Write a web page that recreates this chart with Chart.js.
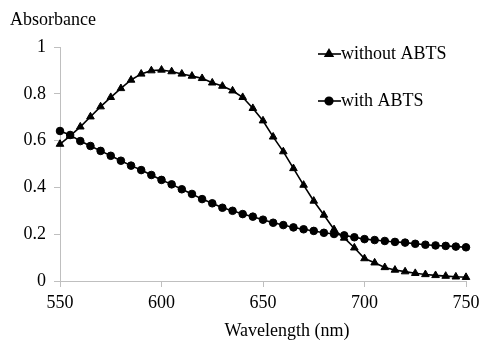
<!DOCTYPE html>
<html>
<head>
<meta charset="utf-8">
<script src="https://cdn.jsdelivr.net/npm/chart.js@4/dist/chart.umd.min.js"></script>
<style>
  body { margin: 0; background: #fff; }
  #wrap { width: 480px; height: 340px; position: relative; }
</style>
</head>
<body>
<div id="wrap"><canvas id="absChart"></canvas></div>
<script>
// --- data ---
const wavelengths = [550, 555, 560, 565, 570, 575, 580, 585, 590, 595,
  600, 605, 610, 615, 620, 625, 630, 635, 640, 645,
  650, 655, 660, 665, 670, 675, 680, 685, 690, 695,
  700, 705, 710, 715, 720, 725, 730, 735, 740, 745, 750];

const withoutABTS = [0.585, 0.620, 0.659, 0.702, 0.745, 0.785, 0.823, 0.859, 0.885, 0.899,
  0.902, 0.895, 0.885, 0.876, 0.866, 0.847, 0.833, 0.813, 0.785, 0.738,
  0.685, 0.616, 0.553, 0.481, 0.410, 0.342, 0.282, 0.220, 0.184, 0.142,
  0.096, 0.078, 0.058, 0.047, 0.040, 0.033, 0.028, 0.024, 0.021, 0.018, 0.016];

const withABTS = [0.641, 0.624, 0.598, 0.577, 0.556, 0.535, 0.514, 0.493, 0.474, 0.453,
  0.432, 0.413, 0.392, 0.372, 0.350, 0.332, 0.313, 0.300, 0.286, 0.275,
  0.262, 0.249, 0.239, 0.229, 0.221, 0.214, 0.206, 0.201, 0.195, 0.187,
  0.179, 0.175, 0.171, 0.167, 0.164, 0.159, 0.155, 0.152, 0.150, 0.147, 0.144];

const xTicks = [550, 600, 650, 700, 750];
const yTicks = [0, 0.2, 0.4, 0.6, 0.8, 1];
const seriesLabels = ['without ABTS', 'with ABTS'];

const FONT = '"Liberation Serif", "Times New Roman", serif';
const AXIS = '#bfbfbf';

function toXY(ys) {
  return ys.map((y, i) => ({ x: wavelengths[i], y: y }));
}

// titles and the in-plot legend
const extras = {
  id: 'extras',
  afterDraw(chart) {
    const ctx = chart.ctx;
    ctx.save();
    ctx.fillStyle = '#000';
    ctx.font = '18px ' + FONT;
    ctx.textBaseline = 'middle';
    ctx.textAlign = 'left';
    ctx.fillText('Absorbance', 10, 20);
    ctx.textAlign = 'center';
    ctx.fillText('Wavelength (nm)', 287, 331);

    const rows = [54, 101];
    chart.data.datasets.forEach((ds, i) => {
      const y = rows[i];
      ctx.strokeStyle = '#000';
      ctx.lineWidth = 1.6;
      ctx.beginPath();
      ctx.moveTo(318, y);
      ctx.lineTo(341, y);
      ctx.stroke();
      ctx.fillStyle = '#000';
      Chart.helpers.drawPoint(ctx, {
        pointStyle: ds.pointStyle, radius: ds.pointRadius, borderWidth: 1, rotation: 0
      }, 329, y);
      ctx.textAlign = 'left';
      ctx.fillText(ds.label, 341, y);
    });
    ctx.restore();
  }
};

new Chart(document.getElementById('absChart'), {
  type: 'line',
  data: {
    datasets: [
      {
        label: seriesLabels[0],
        data: toXY(withoutABTS),
        borderColor: '#000',
        backgroundColor: '#000',
        borderWidth: 1.6,
        pointStyle: 'triangle',
        pointRadius: 4.4,
        pointBorderWidth: 1,
        tension: 0,
        clip: false
      },
      {
        label: seriesLabels[1],
        data: toXY(withABTS),
        borderColor: '#000',
        backgroundColor: '#000',
        borderWidth: 1.6,
        pointStyle: 'circle',
        pointRadius: 3.8,
        pointBorderWidth: 1,
        tension: 0,
        clip: false
      }
    ]
  },
  options: {
    responsive: true,
    maintainAspectRatio: false,
    animation: false,
    layout: { padding: { top: 47, right: 14, left: 0, bottom: 0 } },
    plugins: { legend: { display: false }, tooltip: { enabled: false } },
    scales: {
      x: {
        type: 'linear',
        min: 550, max: 750,
        afterBuildTicks: s => { s.ticks = xTicks.map(v => ({ value: v })); },
        afterFit: s => { s.height = 59; s.paddingRight = 0; s.paddingLeft = 0; },
        grid: { drawOnChartArea: false, color: AXIS, tickLength: 6 },
        border: { color: AXIS, width: 1 },
        ticks: { color: '#000', font: { family: FONT, size: 18 }, padding: 5, maxRotation: 0 }
      },
      y: {
        min: 0, max: 1,
        afterBuildTicks: s => { s.ticks = yTicks.map(v => ({ value: v })); },
        afterFit: s => { s.width = 60; s.paddingTop = 0; s.paddingBottom = 0; },
        grid: { drawOnChartArea: false, color: AXIS, tickLength: 6 },
        border: { color: AXIS, width: 1 },
        ticks: { color: '#000', font: { family: FONT, size: 18 }, padding: 8,
                 callback: v => String(v) }
      }
    }
  },
  plugins: [extras]
});
</script>
</body>
</html>
